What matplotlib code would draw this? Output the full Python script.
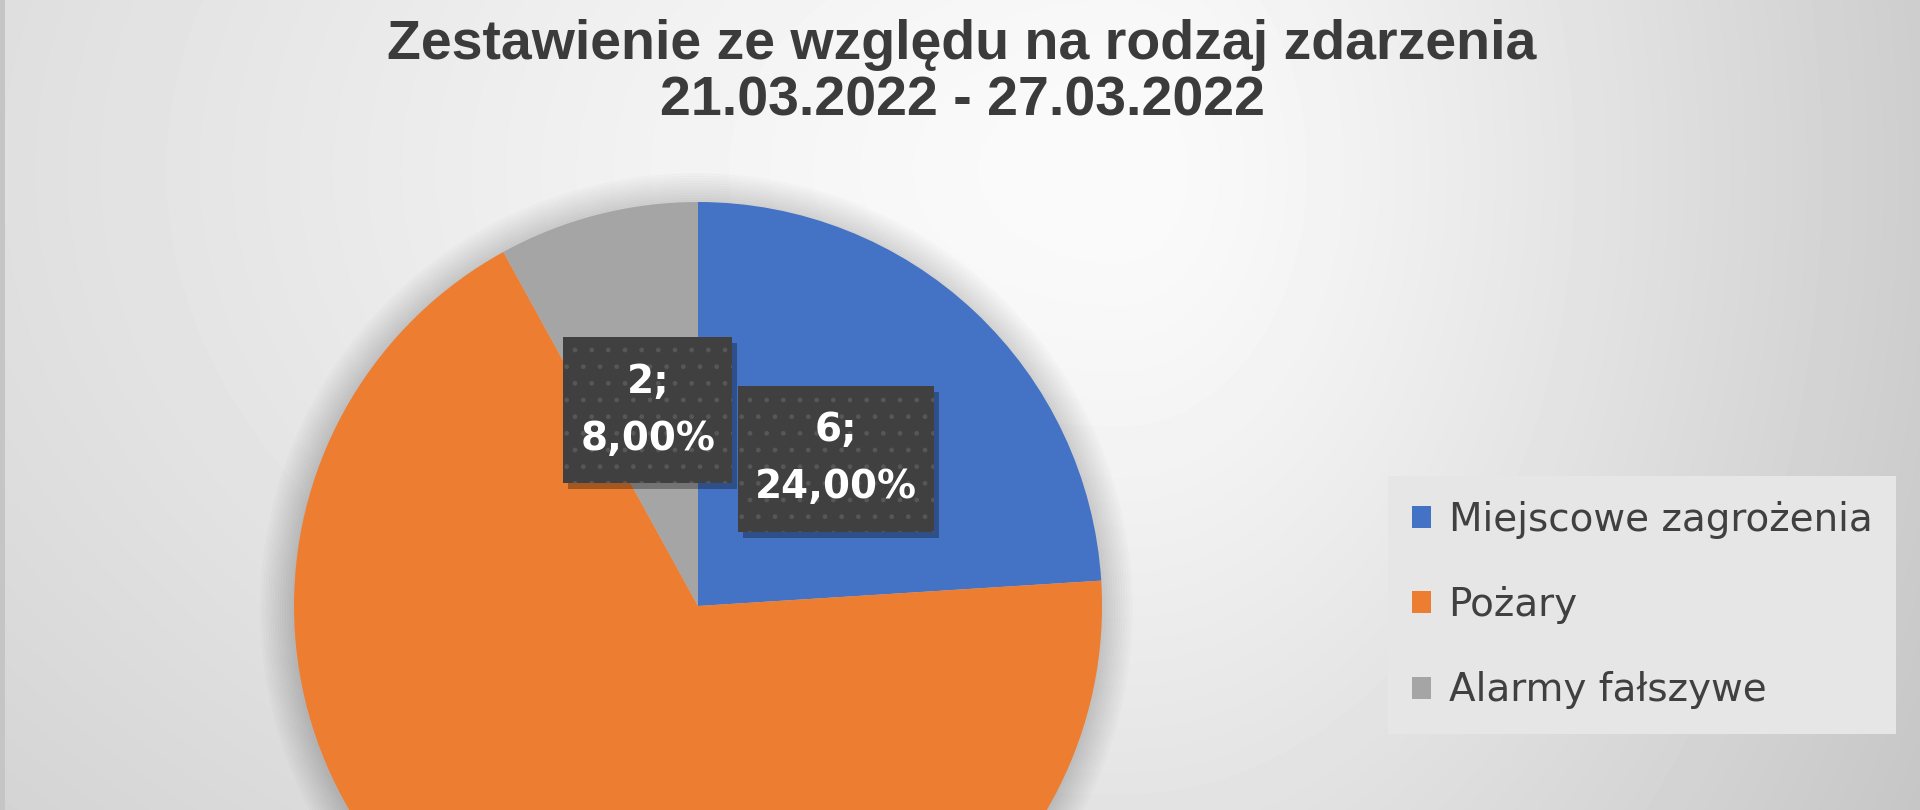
import numpy as np
import matplotlib.pyplot as plt
from matplotlib.patches import Circle, Rectangle

# dane
kategorie = ['Miejscowe zagrożenia', 'Pożary', 'Alarmy fałszywe']
liczba_zdarzen = [6, 17, 2]
kolory = ['#4472C4', '#ED7D31', '#A5A5A5']
pokaz_etykiete = [True, False, True]  # etykieta pożarów jest poza kadrem
tytul = 'Zestawienie ze względu na rodzaj zdarzenia\n21.03.2022 - 27.03.2022'

W, H = 1920, 810
fig = plt.figure(figsize=(W / 100, H / 100), dpi=100)

# tło - jasny gradient jak w Excelu
bg = fig.add_axes([0, 0, 1, 1], zorder=-10)
yy, xx = np.mgrid[0:H, 0:W]
cx, cy = 1120, 170
sx = np.where(xx < cx, 31.5, 15.0)
d = np.sqrt(((xx - cx) / sx) ** 2 + ((yy - cy) / 20.6) ** 2)
d = np.sqrt(d ** 2 + 100) - 10  # wygładzenie jasnego środka
szary = np.clip(250 - d, 195, 251) / 255
szary[:, :5] = 0.77  # ciemniejsza krawędź po lewej
bg.imshow(szary, cmap='gray', vmin=0, vmax=1, aspect='auto', interpolation='bilinear')
bg.axis('off')

# wykres kołowy (środek ~ (698, 606) px, promień ~404 px)
r_px = 404
ax = fig.add_axes([(698 - r_px) / W, (H - 606 - r_px) / H, 2 * r_px / W, 2 * r_px / H])

# miękki cień wokół koła
for i in range(14):
    ax.add_patch(Circle((-0.004, -0.008), 1 + i * 0.006, color='black', alpha=0.013,
                        zorder=0, clip_on=False))

wedges, _ = ax.pie(liczba_zdarzen, colors=kolory, startangle=90, counterclock=False,
                   radius=1, wedgeprops=dict(linewidth=0))
for w in wedges:
    w.set_clip_on(False)
    w.set_zorder(1)
ax.set_xlim(-1, 1)
ax.set_ylim(-1, 1)

# etykiety danych: "wartość; procent"
suma = sum(liczba_zdarzen)
kat = 90.0
etykiety = []
for n, pokaz in zip(liczba_zdarzen, pokaz_etykiete):
    rozpietosc = 360.0 * n / suma
    srodek = np.radians(kat - rozpietosc / 2)
    kat -= rozpietosc
    if not pokaz:
        continue
    x, y = 0.5 * np.cos(srodek), 0.5 * np.sin(srodek)
    tekst = f'{n};\n{100 * n / suma:.2f}%'.replace('.', ',')
    t = ax.text(x, y, tekst, ha='center', va='center', fontsize=28, fontweight='bold',
                color='white', linespacing=1.62, zorder=6)
    etykiety.append(t)

# ramki etykiet rysowane wg rozmiaru tekstu
fig.canvas.draw()
inv = fig.transFigure.inverted()
for t in etykiety:
    bb = t.get_window_extent()
    x0, x1 = bb.x0 - 17, bb.x1 + 17
    yc = (bb.y0 + bb.y1) / 2
    y0, y1 = yc - 73, yc + 73
    (fx0, fy0), (fx1, fy1) = inv.transform([(x0, y0), (x1, y1)])
    (sx0, sy0), (sx1, sy1) = inv.transform([(x0 + 5, y0 - 6), (x1 + 5, y1 - 6)])
    ax.add_patch(Rectangle((sx0, sy0), sx1 - sx0, sy1 - sy0, transform=fig.transFigure,
                           facecolor='black', alpha=0.3, linewidth=0, zorder=4,
                           clip_on=False))
    ax.add_patch(Rectangle((fx0, fy0), fx1 - fx0, fy1 - fy0, transform=fig.transFigure,
                           facecolor='#404040', edgecolor='#575757', linewidth=0,
                           hatch='.', zorder=5, clip_on=False))

# tytuł
fig.text(962 / W, 1 - 19 / H, tytul, ha='center', va='top', fontsize=40,
         fontweight='bold', family='Liberation Sans', color='#3b3b3b', linespacing=1.12)

# legenda
leg = fig.legend(wedges, kategorie, loc='center', bbox_to_anchor=(1642 / W, 1 - 605 / H),
                 fontsize=28, handlelength=0.5, handleheight=0.5, handletextpad=0.45,
                 labelspacing=1.22, borderpad=0.62, fancybox=False, frameon=True,
                 labelcolor='#404040')
leg.get_frame().set_facecolor('#e6e6e6')
leg.get_frame().set_edgecolor('none')
leg.get_frame().set_alpha(1)

fig.savefig('out.png', dpi=100)
